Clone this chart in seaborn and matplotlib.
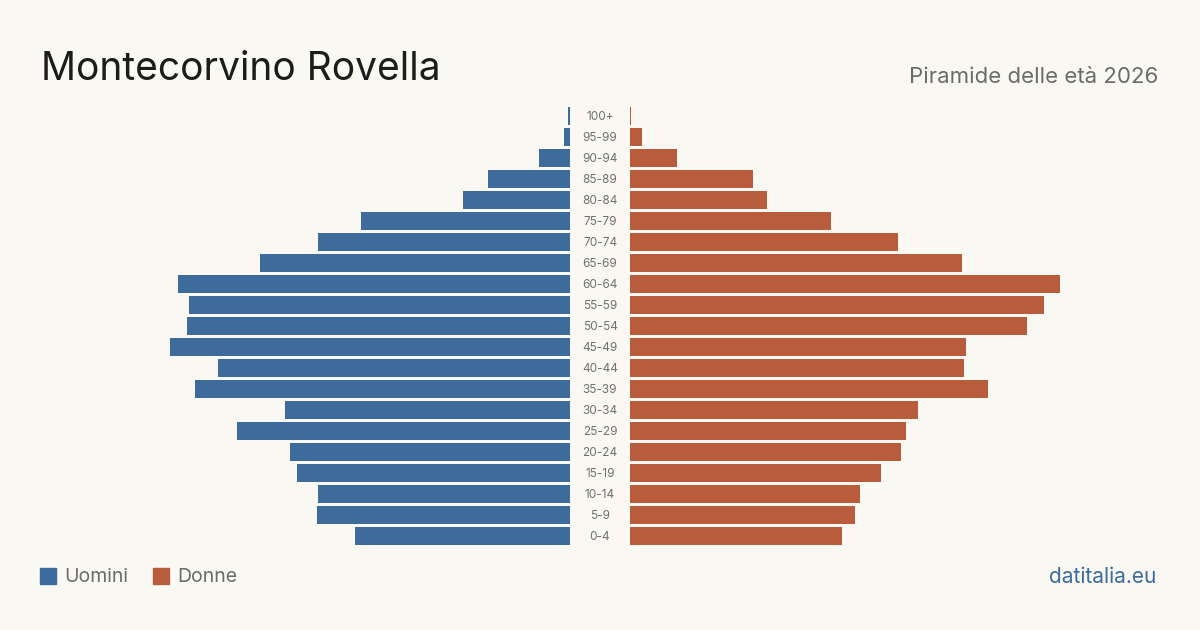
import matplotlib
matplotlib.use("Agg")
import matplotlib.pyplot as plt
import seaborn as sns
import pandas as pd

# classi di età (dall'alto verso il basso)
eta = ["100+", "95-99", "90-94", "85-89", "80-84", "75-79", "70-74", "65-69",
       "60-64", "55-59", "50-54", "45-49", "40-44", "35-39", "30-34", "25-29",
       "20-24", "15-19", "10-14", "5-9", "0-4"]
uomini = [2, 6, 31, 82, 107, 209, 252, 310, 392, 381, 383, 400, 352, 375,
          285, 333, 280, 273, 252, 253, 215]
donne = [1, 12, 47, 123, 137, 201, 268, 332, 430, 414, 397, 336, 334, 358,
         288, 276, 271, 251, 230, 225, 212]

blu = "#3d6b9c"
rosso = "#b95c3c"
sfondo = "#f9f8f3"

df = pd.DataFrame({"eta": eta, "Uomini": uomini, "Donne": donne})

sns.set_theme(style="white")
plt.rcParams["font.family"] = ["Inter", "DejaVu Sans"]

W, H = 1200, 630
fig = plt.figure(figsize=(W / 100, H / 100), dpi=100, facecolor=sfondo)

# 1 unità = 1 pixel
top = 1 - 105.5 / H
bot = 1 - 546.5 / H
ax_l = fig.add_axes([40 / W, bot, 530 / W, top - bot])
ax_r = fig.add_axes([630 / W, bot, 530 / W, top - bot])

sns.barplot(data=df, y="eta", x="Uomini", order=eta, color=blu, width=0.81,
            saturation=1, linewidth=0, ax=ax_l)
sns.barplot(data=df, y="eta", x="Donne", order=eta, color=rosso, width=0.81,
            saturation=1, linewidth=0, ax=ax_r)

ax_l.set_xlim(530, 0)
ax_r.set_xlim(0, 530)
for ax in (ax_l, ax_r):
    ax.set_ylim(len(eta) - 0.5, -0.5)
    ax.set_facecolor("none")
    ax.axis("off")

for i, e in enumerate(eta):
    ax_r.text(-30, i + 0.07, e, ha="center", va="center", fontsize=8.5,
              color="#707070", clip_on=False)

fig.text(41 / W, 1 - 69 / H, "Montecorvino Rovella", fontsize=28,
         color="#1c1c1c", ha="left", va="center")
fig.text(1158 / W, 1 - 77 / H, "Piramide delle età 2026", fontsize=16,
         color="#6b6b6b", ha="right", va="center")

# legenda
fig.patches.append(plt.Rectangle((40 / W, 1 - 584 / H), 16 / W, 16 / H,
                                 transform=fig.transFigure, color=blu))
fig.text(64 / W, 1 - 577 / H, "Uomini", fontsize=14, color="#6b6b6b",
         ha="left", va="center")
fig.patches.append(plt.Rectangle((153 / W, 1 - 584 / H), 16 / W, 16 / H,
                                 transform=fig.transFigure, color=rosso))
fig.text(177 / W, 1 - 577 / H, "Donne", fontsize=14, color="#6b6b6b",
         ha="left", va="center")

fig.text(1156 / W, 1 - 577 / H, "datitalia.eu", fontsize=15, color=blu,
         ha="right", va="center")

fig.savefig("out.png", dpi=100, facecolor=sfondo)
